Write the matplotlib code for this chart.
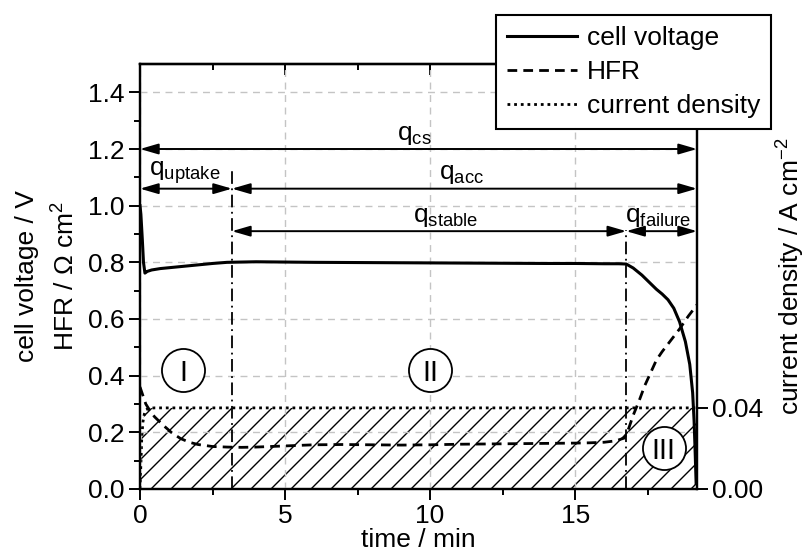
import matplotlib
matplotlib.use("Agg")
import matplotlib.pyplot as plt
from matplotlib.backend_bases import GraphicsContextBase
from matplotlib.path import Path

plt.rcParams['font.family'] = ['Liberation Sans', 'DejaVu Sans']
plt.rcParams['mathtext.fontset'] = 'custom'
plt.rcParams['mathtext.rm'] = 'Liberation Sans'
plt.rcParams['mathtext.it'] = 'Liberation Sans:italic'
plt.rcParams['hatch.linewidth'] = 1.0


# finer hatch spacing than the default density of 6
def _hatch_path(self, density=10.0):
    hatch = self.get_hatch()
    if hatch is None:
        return None
    return Path.hatch(hatch, density)


GraphicsContextBase.get_hatch_path = _hatch_path

FS = 19

# ---- data -------------------------------------------------------------
t_voltage = [0.0, 0.03, 0.08, 0.12, 0.17, 0.25, 0.4, 0.7, 1.0, 1.5, 2.0, 2.5,
             3.0, 4.0, 5.0, 6.0, 8.0, 10.0, 12.0, 14.0, 15.0, 16.0, 16.5,
             16.76, 17.0, 17.3, 17.6, 17.8, 18.0, 18.2, 18.4, 18.6, 18.8,
             18.95, 19.05, 19.1, 19.14, 19.17]
cell_voltage = [1.0, 0.97, 0.88, 0.80, 0.762, 0.768, 0.773, 0.778, 0.781,
                0.786, 0.791, 0.796, 0.800, 0.802, 0.801, 0.800, 0.799,
                0.798, 0.797, 0.796, 0.796, 0.795, 0.795, 0.794, 0.780,
                0.755, 0.725, 0.705, 0.688, 0.668, 0.638, 0.590, 0.520,
                0.440, 0.340, 0.240, 0.120, 0.020]

t_hfr = [0.0, 0.1, 0.2, 0.35, 0.5, 0.8, 1.1, 1.4, 1.7, 2.0, 2.5, 3.0, 3.5,
         4.0, 5.0, 6.0, 7.0, 8.0, 9.0, 10.0, 11.0, 12.0, 13.0, 14.0, 15.0,
         15.5, 16.0, 16.4, 16.7, 16.85, 17.0, 17.2, 17.4, 17.6, 17.8, 18.0,
         18.3, 18.6, 18.9, 19.2]
hfr = [0.36, 0.33, 0.30, 0.275, 0.255, 0.225, 0.198, 0.178, 0.165, 0.157,
       0.150, 0.148, 0.147, 0.148, 0.152, 0.156, 0.157, 0.156, 0.155, 0.156,
       0.158, 0.159, 0.160, 0.161, 0.162, 0.163, 0.165, 0.170, 0.180, 0.215,
       0.260, 0.310, 0.365, 0.410, 0.455, 0.485, 0.525, 0.565, 0.610, 0.650]

t_current = [0.0, 0.03, 0.06, 0.1, 0.15, 0.2, 0.3, 0.5, 19.2]
current_density = [0.0, 0.012, 0.025, 0.033, 0.037, 0.039, 0.0398, 0.04, 0.04]

# phase boundaries (min)
t_start, t_uptake, t_failure, t_end = 0.0, 3.17, 16.76, 19.2

# charge intervals: (label, start, end, arrow height, label x)
intervals = [
    (r'q$_{\mathrm{cs}}$', t_start, t_end, 1.20, 9.45),
    (r'q$_{\mathrm{uptake}}$', t_start, t_uptake, 1.06, 1.55),
    (r'q$_{\mathrm{acc}}$', t_uptake, t_end, 1.06, 11.1),
    (r'q$_{\mathrm{stable}}$', t_uptake, t_failure, 0.91, 10.55),
    (r'q$_{\mathrm{failure}}$', t_failure, t_end, 0.91, 17.85),
]

# phase markers: (label, x, y)
phases = [('I', 1.49, 0.42), ('II', 10.0, 0.42), ('III', 18.05, 0.144)]

# ---- figure -----------------------------------------------------------
fig = plt.figure(figsize=(8.06, 5.58), dpi=100)
ax = fig.add_axes([140 / 806, 1 - 489 / 558, 557 / 806, 425 / 558])
ax2 = ax.twinx()
ax.set_zorder(ax2.get_zorder() + 1)
ax.patch.set_visible(False)

ax.set_xlim(0, 19.2)
ax.set_ylim(0, 1.5)
ax2.set_ylim(0, 0.2096)

# current density with hatched area
l_j, = ax2.plot(t_current, current_density, color='k', lw=2.0,
                ls=(0, (1, 1.4)), label='current density')
ax2.fill_between(t_current, 0, current_density, facecolor='none',
                 edgecolor='k', hatch='/', linewidth=0)

l_v, = ax.plot(t_voltage, cell_voltage, color='k', lw=2.2, label='cell voltage',
               zorder=4)
l_h, = ax.plot(t_hfr, hfr, color='k', lw=2.0, ls=(0, (3.5, 2.2)), label='HFR',
               zorder=4)

# grid
ax.set_xticks([0, 5, 10, 15])
ax.set_xticks([2.5, 7.5, 12.5, 17.5], minor=True)
ax.set_yticks([0.0, 0.2, 0.4, 0.6, 0.8, 1.0, 1.2, 1.4])
ax.set_yticks([0.1, 0.3, 0.5, 0.7, 0.9, 1.1, 1.3], minor=True)
ax.set_yticklabels(['0.0', '0.2', '0.4', '0.6', '0.8', '1.0', '1.2', '1.4'])
ax.grid(True, which='major', color='#c4c4c4', ls=(0, (5, 4)), lw=1.0)

ax2.set_yticks([0.0, 0.04])
ax2.set_yticklabels(['0.00', '0.04'])

for a in (ax, ax2):
    for s in a.spines.values():
        s.set_linewidth(1.6)

ax.tick_params(which='major', direction='out', length=8, width=1.4,
               labelsize=FS, pad=3)
ax.tick_params(which='minor', direction='out', length=4.5, width=1.4)
ax.tick_params(axis='y', right=False)
ax2.tick_params(axis='y', which='major', direction='out', length=8, width=1.4,
                labelsize=FS, pad=3)

# inward ticks on top edge
top = ax.secondary_xaxis('top')
top.set_xticks([0, 5, 10, 15])
top.set_xticks([2.5, 7.5, 12.5, 17.5], minor=True)
top.tick_params(which='major', direction='in', length=8, width=1.4,
                labeltop=False)
top.tick_params(which='minor', direction='in', length=4.5, width=1.4)
top.spines['top'].set_linewidth(1.6)

ax.set_xlabel('time / min', fontsize=FS, labelpad=0)
ax.set_ylabel('cell voltage / V\nHFR / Ω cm$^{2}$', fontsize=FS,
              linespacing=1.6, labelpad=6)
ax2.set_ylabel('current density / A cm$^{-2}$', fontsize=FS, labelpad=8)

# phase boundaries
ax.plot([t_uptake, t_uptake], [0, 1.13], color='k', lw=1.3,
        ls=(0, (7, 2.5, 1, 2.5)), zorder=3)
ax.plot([t_failure, t_failure], [0, 0.915], color='k', lw=1.3,
        ls=(0, (7, 2.5, 1, 2.5)), zorder=3)

# charge arrows
for label, x0, x1, y, xl in intervals:
    ax.annotate('', xy=(x1, y), xytext=(x0, y),
                arrowprops=dict(arrowstyle='<|-|>,head_length=1.1,head_width=0.32',
                                color='k', lw=1.4, shrinkA=0, shrinkB=0,
                                mutation_scale=10), zorder=5)
    ax.text(xl, y + 0.008, label, fontsize=FS, ha='center', va='bottom',
            zorder=6)

# phase markers
for label, x, y in phases:
    ax.plot([x], [y], marker='o', ms=31, mfc='white', mec='k', mew=1.3,
            zorder=6)
    ax.text(x, y, label, fontsize=FS + 2, ha='center', va='center_baseline',
            zorder=7)

leg = fig.legend(handles=[l_v, l_h, l_j], loc='upper right',
                 bbox_to_anchor=(771 / 806, 1 - 15 / 558), borderaxespad=0,
                 fontsize=FS, frameon=True, fancybox=False, framealpha=1,
                 edgecolor='k', handlelength=2.65, handletextpad=0.35,
                 labelspacing=0.38, borderpad=0.42)
leg.get_frame().set_linewidth(1.5)

fig.savefig('out.png', dpi=100, facecolor='white')
